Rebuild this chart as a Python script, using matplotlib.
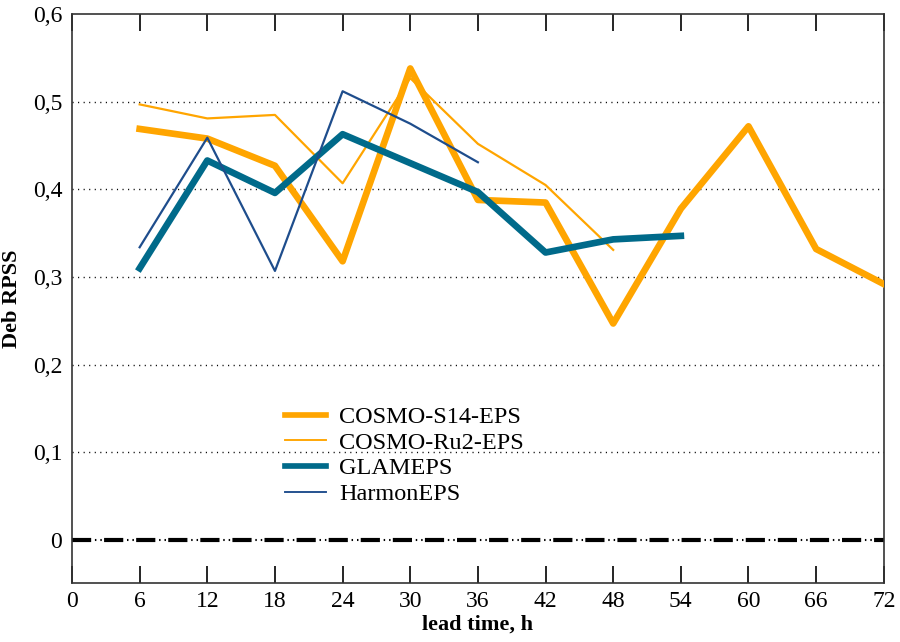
import numpy as np
from matplotlib import pyplot as plt

plt.rcParams['font.family'] = ['Liberation Serif', 'DejaVu Serif']

# lead times, h
lead = [6, 12, 18, 24, 30, 36, 42, 48, 54, 60, 66, 72]

# Deb RPSS per system
s14 = [0.469, 0.458, 0.427, 0.318, 0.538, 0.388, 0.385, 0.247, 0.378, 0.472, 0.332, 0.292]
ru2 = [0.497, 0.481, 0.485, 0.407, 0.527, 0.452, 0.405, 0.331]
glam = [0.310, 0.433, 0.396, 0.463, 0.430, 0.397, 0.328, 0.343, 0.347]
harmon = [0.334, 0.459, 0.307, 0.512, 0.475, 0.431]

xticks = list(range(0, 73, 6))
yticks = [0, 0.1, 0.2, 0.3, 0.4, 0.5, 0.6]
ylabels = ['0', '0,1', '0,2', '0,3', '0,4', '0,5', '0,6']

fig = plt.figure(figsize=(9, 6.42), dpi=100)
ax = fig.add_axes([0.08, 0.092, 0.902, 0.886])

# dotted grid
for yv in yticks[1:-1]:
    ax.plot([0, 72], [yv, yv], color='black', lw=1.0, ls=(0, (0.8, 3.2)), zorder=1)

# zero line: thick dashes with thin dots between
ax.plot([0, 72], [0, 0], color='black', lw=3, ls=(0, (4.6, 3.1)), solid_capstyle='butt',
        dash_capstyle='butt', zorder=2)
ax.plot([0, 72], [0, 0], color='black', lw=1.5, ls=(4.4, (0.7, 1.9, 0.7, 12.1)),
        dash_capstyle='butt', zorder=2)

ax.plot(lead[:len(s14)], s14, color='#FFA500', lw=4.8, label='COSMO-S14-EPS', zorder=3)
ax.plot(lead[:len(ru2)], ru2, color='#FFA500', lw=1.6, label='COSMO-Ru2-EPS', zorder=4)
ax.plot(lead[:len(glam)], glam, color='#006A8A', lw=4.8, label='GLAMEPS', zorder=5)
ax.plot(lead[:len(harmon)], harmon, color='#1E4D8C', lw=1.6, label='HarmonEPS', zorder=6)

ax.set_xlim(0, 72)
ax.set_ylim(-0.049, 0.6)
ax.set_xticks(xticks)
ax.set_yticks(yticks)
ax.set_yticklabels(ylabels)
ax.tick_params(axis='x', direction='in', length=12, width=1.2, top=True, labelsize=17, pad=6)
ax.tick_params(axis='y', length=0, labelsize=17, pad=7)
for sp in ax.spines.values():
    sp.set_linewidth(1.2)
    sp.set_color('#333333')

ax.set_xlabel('lead time, h', fontsize=16, fontweight='bold', labelpad=2)
ax.set_ylabel('Deb RPSS', fontsize=16, fontweight='bold')
ax.yaxis.set_label_coords(-0.062, 0.5)

leg = ax.legend(loc='upper left', bbox_to_anchor=(0.251, 0.328), frameon=False, fontsize=17.5,
                handlelength=1.65, handletextpad=0.55, labelspacing=0.15, borderaxespad=0)
for ln in leg.get_lines():
    ln.set_linewidth(ln.get_linewidth() * 0.85)

plt.savefig('out.png', dpi=100)
